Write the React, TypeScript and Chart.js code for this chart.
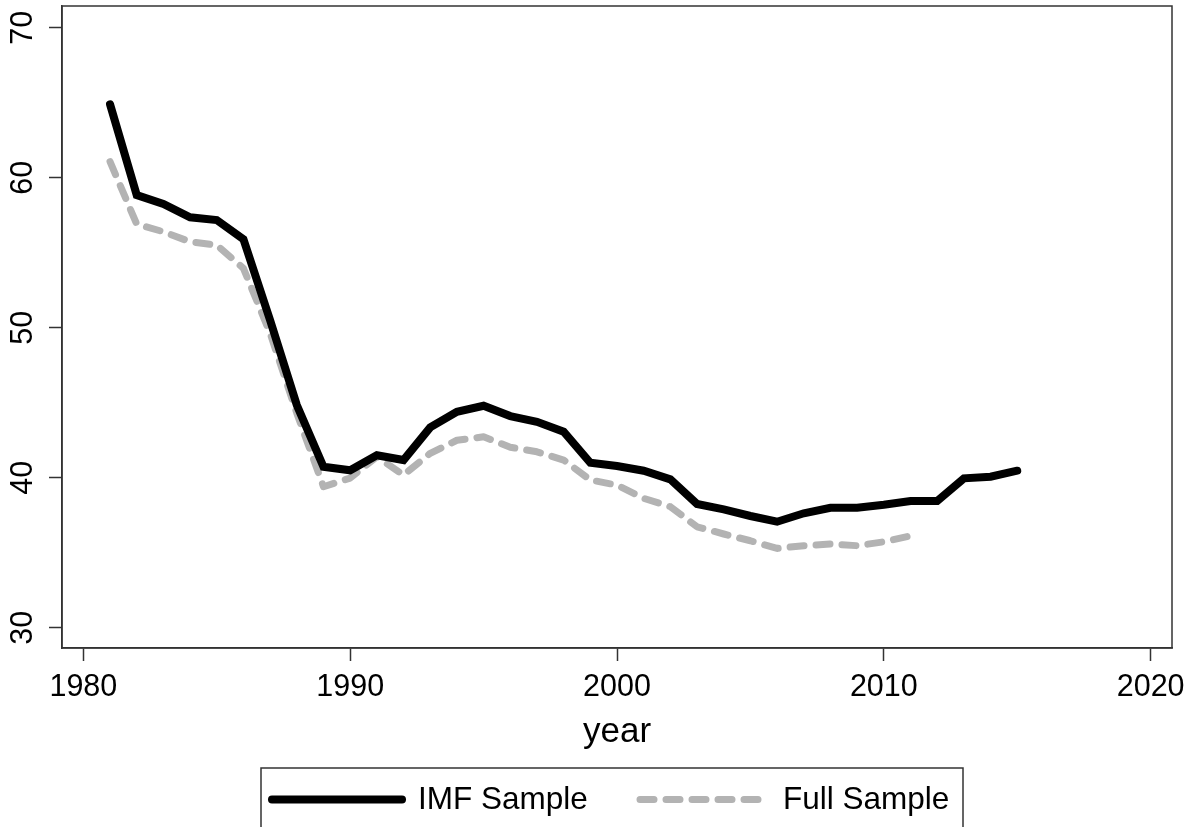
import React, { useEffect, useRef } from "react";
import { Chart, registerables } from "chart.js";

Chart.register(...registerables);

const imfYears: number[] = [
  1981, 1982, 1983, 1984, 1985, 1986, 1987, 1988, 1989, 1990, 1991, 1992,
  1993, 1994, 1995, 1996, 1997, 1998, 1999, 2000, 2001, 2002, 2003, 2004,
  2005, 2006, 2007, 2008, 2009, 2010, 2011, 2012, 2013, 2014, 2015,
];
const imfValues: number[] = [
  64.9, 58.85, 58.25, 57.36, 57.18, 55.9, 50.5, 44.85, 40.73, 40.5, 41.5, 41.18,
  43.36, 44.4, 44.8, 44.11, 43.73, 43.07, 41.0, 40.78, 40.47, 39.89, 38.25, 37.89,
  37.45, 37.07, 37.63, 38.0, 38.0, 38.2, 38.45, 38.45, 39.96, 40.07, 40.47,
];
const fullYears: number[] = [
  1981, 1982, 1983, 1984, 1985, 1986, 1987, 1988, 1989, 1990, 1991, 1992,
  1993, 1994, 1995, 1996, 1997, 1998, 1999, 2000, 2001, 2002, 2003, 2004,
  2005, 2006, 2007, 2008, 2009, 2010, 2011,
];
const fullValues: number[] = [
  61.07, 56.91, 56.4, 55.73, 55.51, 53.96, 49.63, 44.3, 39.4, 39.98, 41.4, 40.18,
  41.63, 42.5, 42.73, 42.03, 41.73, 41.18, 39.85, 39.51, 38.63, 38.07, 36.73, 36.25,
  35.8, 35.29, 35.47, 35.58, 35.47, 35.73, 36.13,
];
const xTicks: number[] = [1980, 1990, 2000, 2010, 2020];
const yTicks: number[] = [30, 40, 50, 60, 70];
const seriesLabels: string[] = ["IMF Sample", "Full Sample"];
const xTitle = "year";

const FONT = '"Liberation Sans", Arial, sans-serif';
const AXIS_COLOR = "#333333";

const framePlugin = {
  id: "frameAndLegend",
  afterDraw(chart: any) {
    const ctx = chart.ctx;
    const a = chart.chartArea;
    ctx.save();
    ctx.strokeStyle = AXIS_COLOR;
    ctx.lineWidth = 1.5;
    ctx.strokeRect(a.left, a.top, a.right - a.left, a.bottom - a.top);

    ctx.fillStyle = "#000";
    ctx.font = `35px ${FONT}`;
    ctx.textAlign = "center";
    ctx.textBaseline = "alphabetic";
    const xs = chart.scales.x;
    ctx.fillText(xTitle, (xs.left + xs.right) / 2, 742);

    ctx.strokeStyle = AXIS_COLOR;
    ctx.lineWidth = 1.5;
    ctx.strokeRect(261, 768, 702, 80);

    const ds = chart.data.datasets;
    const items = [
      { x0: 272, x1: 402, tx: 418 },
      { x0: 640, x1: 760, tx: 783 },
    ];
    items.forEach((it, i) => {
      const d = ds[i];
      ctx.beginPath();
      ctx.strokeStyle = d.borderColor;
      ctx.lineWidth = d.borderWidth;
      ctx.lineCap = "round";
      ctx.setLineDash(d.borderDash || []);
      ctx.moveTo(it.x0, 799.5);
      ctx.lineTo(it.x1, 799.5);
      ctx.stroke();
      ctx.setLineDash([]);
      ctx.fillStyle = "#000";
      ctx.font = `31.5px ${FONT}`;
      ctx.textAlign = "left";
      ctx.textBaseline = "alphabetic";
      ctx.fillText(d.label, it.tx, 809);
    });
    ctx.restore();
  },
};

export default function App() {
  const ref = useRef<HTMLCanvasElement | null>(null);

  useEffect(() => {
    if (!ref.current) return;
    const chart = new Chart(ref.current, {
      type: "line",
      data: {
        datasets: [
          {
            label: seriesLabels[0],
            data: imfYears.map((y, i) => ({ x: y, y: imfValues[i] })),
            borderColor: "#000000",
            backgroundColor: "#000000",
            borderWidth: 8,
            pointRadius: 0,
            tension: 0,
            borderCapStyle: "round",
            borderJoinStyle: "miter",
            fill: false,
          },
          {
            label: seriesLabels[1],
            data: fullYears.map((y, i) => ({ x: y, y: fullValues[i] })),
            borderColor: "#b3b3b3",
            backgroundColor: "#b3b3b3",
            borderWidth: 7,
            borderDash: [14, 12],
            pointRadius: 0,
            tension: 0,
            borderCapStyle: "round",
            borderJoinStyle: "round",
            fill: false,
          },
        ],
      },
      options: {
        responsive: false,
        animation: false,
        layout: { padding: { left: 0, top: 6, right: 27, bottom: 0 } },
        plugins: {
          legend: { display: false },
          tooltip: { enabled: false },
          title: { display: false },
        },
        scales: {
          x: {
            type: "linear",
            min: 1979.2,
            max: 2020.8,
            afterBuildTicks: (scale: any) => {
              scale.ticks = xTicks.map((v) => ({ value: v }));
            },
            afterFit: (scale: any) => {
              scale.height = 179;
              scale.paddingLeft = 0;
              scale.paddingRight = 0;
              scale.paddingTop = 0;
              scale.paddingBottom = 0;
            },
            grid: {
              display: true,
              drawOnChartArea: false,
              drawTicks: true,
              tickLength: 13,
              tickColor: AXIS_COLOR,
              tickWidth: 1.5,
            },
            border: { display: true, color: AXIS_COLOR, width: 1.5 },
            ticks: {
              color: "#000",
              font: { family: FONT, size: 30.5 },
              padding: 8,
              maxRotation: 0,
              minRotation: 0,
              callback: (v: any) => String(v),
            },
          },
          y: {
            type: "linear",
            min: 28.65,
            max: 71.45,
            afterBuildTicks: (scale: any) => {
              scale.ticks = yTicks.map((v) => ({ value: v }));
            },
            afterFit: (scale: any) => {
              scale.width = 62;
              scale.paddingLeft = 0;
              scale.paddingRight = 0;
              scale.paddingTop = 0;
              scale.paddingBottom = 0;
            },
            grid: {
              display: true,
              drawOnChartArea: false,
              drawTicks: true,
              tickLength: 13,
              tickColor: AXIS_COLOR,
              tickWidth: 1.5,
            },
            border: { display: true, color: AXIS_COLOR, width: 1.5 },
            ticks: {
              color: "#000",
              font: { family: FONT, size: 30.5 },
              padding: 8,
              minRotation: 90,
              maxRotation: 90,
              crossAlign: "center",
              callback: (v: any) => String(v),
            },
          },
        },
      },
      plugins: [framePlugin],
    } as any);
    return () => chart.destroy();
  }, []);

  return (
    <div style={{ position: "absolute", left: 0, top: 0, width: 1199, height: 827, background: "#fff" }}>
      <canvas ref={ref} width={1199} height={827} style={{ display: "block" }} />
    </div>
  );
}
